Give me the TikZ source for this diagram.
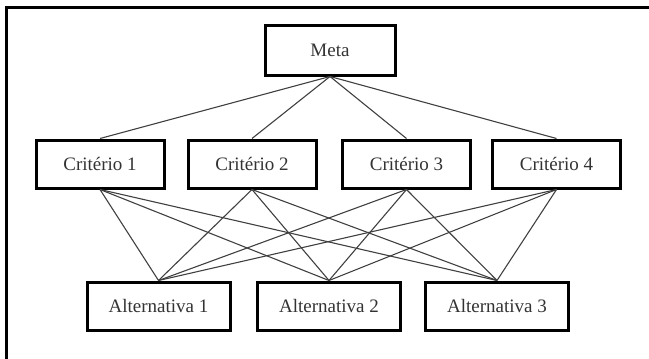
\documentclass[tikz,border=0pt]{standalone}
\usepackage{fontspec}
\setmainfont{Liberation Serif}
\usetikzlibrary{positioning}

\begin{document}
\begin{tikzpicture}[x=1pt, y=-1pt,
    every node/.style={font=\fontsize{19}{23}\selectfont, text=black!80},
    box/.style={draw=black, line width=3pt, fill=white, inner sep=0pt,
                minimum height=48pt},
    crit/.style={box, minimum width=128pt},
    alt/.style={box, minimum width=143pt},
    link/.style={draw=black!75, line width=1.1pt}
]
\useasboundingbox (0,0) rectangle (649,359);
\draw[line width=3pt] (652,7.5) -- (6,7.5) -- (6,362);

\node[box, minimum width=130pt, minimum height=50pt] (meta) at (330,50) {Meta};

\node[crit] (c1) at (100,164) {Critério 1};
\node[crit] (c2) at (252,164) {Critério 2};
\node[crit] (c3) at (406.5,164) {Critério 3};
\node[crit] (c4) at (556.5,164) {Critério 4};

\node[alt] (a1) at (158.5,306) {Alternativa 1};
\node[alt] (a2) at (329,306) {Alternativa 2};
\node[alt] (a3) at (497,306) {Alternativa 3};

\draw[link] (meta.south) -- (c1.north);
\draw[link] (meta.south) -- (c2.north);
\draw[link] (meta.south) -- (c3.north);
\draw[link] (meta.south) -- (c4.north);

\draw[link] (c1.south) -- (a1.north);
\draw[link] (c1.south) -- (a2.north);
\draw[link] (c1.south) -- (a3.north);
\draw[link] (c2.south) -- (a1.north);
\draw[link] (c2.south) -- (a2.north);
\draw[link] (c2.south) -- (a3.north);
\draw[link] (c3.south) -- (a1.north);
\draw[link] (c3.south) -- (a2.north);
\draw[link] (c3.south) -- (a3.north);
\draw[link] (c4.south) -- (a1.north);
\draw[link] (c4.south) -- (a2.north);
\draw[link] (c4.south) -- (a3.north);
\end{tikzpicture}
\end{document}
